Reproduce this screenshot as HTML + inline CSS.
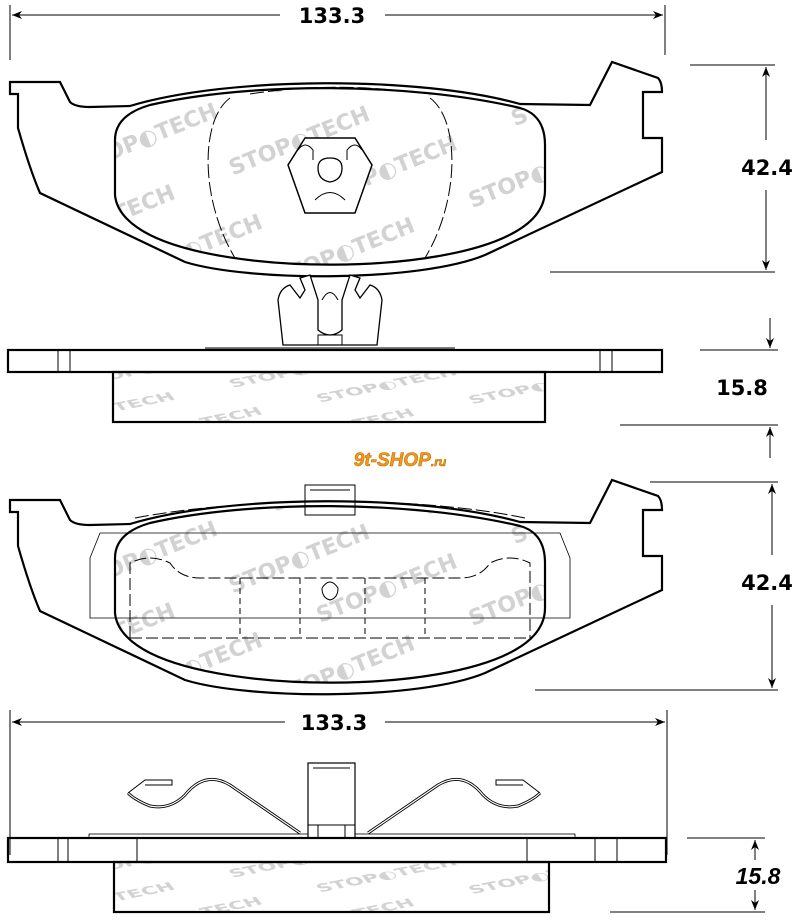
<!DOCTYPE html>
<html><head><meta charset="utf-8"><style>
html,body{margin:0;padding:0;background:#fff;width:800px;height:920px;overflow:hidden;}
svg{display:block;}
.d{font-family:"DejaVu Sans",sans-serif;font-weight:bold;font-size:21px;fill:#000;}
.wm{font-family:"DejaVu Sans",sans-serif;font-weight:bold;font-size:22px;fill:#d2d2d2;}
</style></head><body>
<svg width="800" height="920" viewBox="0 0 800 920" xmlns="http://www.w3.org/2000/svg">
<defs>
<marker id="a" viewBox="0 0 10 10" refX="10" refY="5" markerWidth="10" markerHeight="10" orient="auto-start-reverse" markerUnits="userSpaceOnUse"><path d="M0,1 L10,5 L0,9 L3,5 Z" fill="#000"/></marker>
<path id="fr" d="M150,105 C250,82 410,82 520,108 Q545,115 545,145 L545,190 Q545,215 515,232 C440,275 230,275 150,235 Q117,218 115,195 L115,140 Q115,115 150,105 Z"/>
<clipPath id="f1"><use href="#fr"/></clipPath>
<clipPath id="f2"><use href="#fr" transform="translate(0,418)"/></clipPath>
<clipPath id="s1"><rect x="113" y="372" width="432" height="50"/></clipPath>
<clipPath id="s2"><rect x="114" y="862" width="435" height="50"/></clipPath>
<g id="wmg">
 <g transform="rotate(-22)">
  <text class="wm" x="-60" y="130">STOP◐TECH</text><text class="wm" x="150" y="130">STOP◐TECH</text><text class="wm" x="360" y="130">STOP◐TECH</text>
  <text class="wm" x="10" y="190">STOP◐TECH</text><text class="wm" x="220" y="190">STOP◐TECH</text><text class="wm" x="430" y="190">STOP◐TECH</text>
  <text class="wm" x="-60" y="250">STOP◐TECH</text><text class="wm" x="150" y="250">STOP◐TECH</text><text class="wm" x="360" y="250">STOP◐TECH</text>
  <text class="wm" x="10" y="310">STOP◐TECH</text><text class="wm" x="220" y="310">STOP◐TECH</text><text class="wm" x="430" y="310">STOP◐TECH</text>
  <text class="wm" x="-60" y="370">STOP◐TECH</text><text class="wm" x="150" y="370">STOP◐TECH</text><text class="wm" x="360" y="370">STOP◐TECH</text>
 </g>
</g>
<path id="bp" d="M10,82 L60,82 L70,102 Q75,107 90,107 L130,106 C230,76 420,76 520,104 L590,105 L612,62 L658,78 Q662,82 662,92 L643,92 L643,138 L662,138 L662,172 L485,255 C420,282 250,282 185,262 L40,193 Q30,170 18,128 L18,94 L10,94 Z"/>
</defs>

<line x1="10" y1="5" x2="10" y2="60" stroke="#000"/>
<line x1="665" y1="5" x2="665" y2="55" stroke="#000"/>
<line x1="12" y1="15" x2="280" y2="15" stroke="#000" marker-start="url(#a)"/>
<line x1="385" y1="15" x2="663" y2="15" stroke="#000" marker-end="url(#a)"/>
<text class="d" x="332" y="23" text-anchor="middle">133.3</text>

<g clip-path="url(#f1)"><use href="#wmg"/></g>
<use href="#bp" fill="none" stroke="#000" stroke-width="2.2"/>
<use href="#fr" fill="none" stroke="#000" stroke-width="2.2"/>
<path d="M230,98 C200,120 200,200 235,258" fill="none" stroke="#000" stroke-dasharray="14,4"/>
<path d="M430,98 C460,120 460,200 425,258" fill="none" stroke="#000" stroke-dasharray="14,4"/>
<path d="M250,94 C310,85 360,85 430,94" fill="none" stroke="#000" stroke-dasharray="14,4"/>
<path d="M305,138 L355,138 L372,165 L355,213 L305,213 L288,165 Z" fill="#fff" stroke="#000" stroke-width="1.5"/>
<path d="M318,168 Q318,158 330,158 Q342,158 342,168 Q342,180 330,182 Q318,180 318,168" fill="none" stroke="#000" stroke-width="1.3"/>
<path d="M298,150 Q305,140 313,150 L313,160" fill="none" stroke="#000"/><path d="M362,150 Q355,140 347,150 L347,160" fill="none" stroke="#000"/>
<path d="M315,200 Q330,185 345,200" fill="none" stroke="#000"/>

<line x1="690" y1="65" x2="775" y2="65" stroke="#000"/>
<line x1="550" y1="272" x2="775" y2="272" stroke="#000"/>
<line x1="766" y1="67" x2="766" y2="140" stroke="#000" marker-start="url(#a)"/>
<line x1="766" y1="190" x2="766" y2="270" stroke="#000" marker-end="url(#a)"/>
<text class="d" x="767" y="175" text-anchor="middle">42.4</text>

<path d="M205,348 L455,348" stroke="#000"/>
<path d="M283,345 L278,300 Q280,288 290,285 L300,298 L305,290 L300,278 L310,275 L318,300 L318,330 Q330,340 342,330 L342,300 L350,275 L360,278 L355,290 L360,298 L370,285 Q380,288 382,300 L377,345 Z" fill="#fff" stroke="#000" stroke-width="1.3"/>
<path d="M318,345 L318,335 L342,335 L342,345" fill="none" stroke="#000"/>
<path d="M322,300 Q330,285 338,300" fill="none" stroke="#000"/>
<g clip-path="url(#s1)"><g transform="translate(0,300) scale(1,0.5)"><use href="#wmg"/></g></g>
<rect x="8" y="350" width="654" height="22" fill="none" stroke="#000" stroke-width="2.2"/>
<line x1="58" y1="350" x2="58" y2="372" stroke="#000"/><line x1="70" y1="350" x2="70" y2="372" stroke="#000"/>
<line x1="600" y1="350" x2="600" y2="372" stroke="#000"/><line x1="612" y1="350" x2="612" y2="372" stroke="#000"/>
<rect x="113" y="372" width="432" height="50" fill="none" stroke="#000" stroke-width="2.2"/>

<line x1="700" y1="350" x2="778" y2="350" stroke="#000"/>
<line x1="620" y1="425" x2="778" y2="425" stroke="#000"/>
<line x1="770" y1="318" x2="770" y2="348" stroke="#000" marker-end="url(#a)"/>
<line x1="770" y1="458" x2="770" y2="427" stroke="#000" marker-end="url(#a)"/>
<text class="d" x="742" y="395" text-anchor="middle">15.8</text>

<text x="400" y="466" text-anchor="middle" font-family="Liberation Sans,sans-serif" font-weight="bold" font-style="italic" font-size="19" fill="#f39a1a" stroke="#c26a00" stroke-width="0.6">9t-SHOP<tspan font-size="12">.ru</tspan></text>

<rect x="305" y="485" width="50" height="30" fill="#fff" stroke="#000"/>
<line x1="310" y1="490" x2="350" y2="490" stroke="#000"/>
<g clip-path="url(#f2)"><g transform="translate(0,418)"><use href="#wmg"/></g></g>
<g transform="translate(0,418)">
<use href="#bp" fill="none" stroke="#000" stroke-width="2.2"/>
<use href="#fr" fill="none" stroke="#000" stroke-width="2.2"/>
<path d="M135,100 C250,78 420,78 525,100" fill="none" stroke="#000" stroke-dasharray="14,4"/>
<path d="M90,140 L100,115 L560,115 L570,140 L570,200 L90,200 Z" fill="none" stroke="#000" stroke-width="0.8"/>
<path d="M130,220 L130,145 Q150,135 170,145 Q180,160 200,160 L460,160 Q480,160 490,145 Q510,135 530,145 L530,220" fill="none" stroke="#000" stroke-dasharray="12,4"/>
<line x1="130" y1="220" x2="530" y2="220" stroke="#000" stroke-dasharray="12,4"/>
<line x1="240" y1="160" x2="240" y2="220" stroke="#000" stroke-dasharray="6,4"/>
<line x1="300" y1="160" x2="300" y2="220" stroke="#000" stroke-dasharray="6,4"/>
<line x1="365" y1="160" x2="365" y2="220" stroke="#000" stroke-dasharray="6,4"/>
<line x1="425" y1="160" x2="425" y2="220" stroke="#000" stroke-dasharray="6,4"/>
<path d="M322,170 Q330,158 338,170 Q338,180 330,182 Q322,180 322,170" fill="none" stroke="#000"/>
</g>

<line x1="650" y1="482" x2="778" y2="482" stroke="#000"/>
<line x1="535" y1="690" x2="778" y2="690" stroke="#000"/>
<line x1="772" y1="484" x2="772" y2="555" stroke="#000" marker-start="url(#a)"/>
<line x1="772" y1="605" x2="772" y2="688" stroke="#000" marker-end="url(#a)"/>
<text class="d" x="767" y="590" text-anchor="middle">42.4</text>

<line x1="10" y1="710" x2="10" y2="855" stroke="#000"/>
<line x1="667" y1="710" x2="667" y2="855" stroke="#000"/>
<line x1="12" y1="722" x2="285" y2="722" stroke="#000" marker-start="url(#a)"/>
<line x1="385" y1="722" x2="665" y2="722" stroke="#000" marker-end="url(#a)"/>
<text class="d" x="334" y="730" text-anchor="middle">133.3</text>

<rect x="89" y="834" width="486" height="4" fill="none" stroke="#000" stroke-width="0.8"/>
<path d="M128,793 Q135,800 150,806 Q170,810 185,795 Q205,770 230,785 L300,833" fill="none" stroke="#000" stroke-width="3"/>
<path d="M128,793 Q135,800 150,806 Q170,810 185,795 Q205,770 230,785 L300,833" fill="none" stroke="#fff" stroke-width="1.2"/>
<path d="M540,793 Q533,800 518,806 Q498,810 483,795 Q463,770 438,785 L368,833" fill="none" stroke="#000" stroke-width="3"/>
<path d="M540,793 Q533,800 518,806 Q498,810 483,795 Q463,770 438,785 L368,833" fill="none" stroke="#fff" stroke-width="1.2"/>
<path d="M128,793 L145,780 L172,780 L172,785 L145,785" fill="none" stroke="#000" stroke-width="1"/>
<path d="M540,793 L523,780 L496,780 L496,785 L523,785" fill="none" stroke="#000" stroke-width="1"/>
<rect x="308" y="763" width="47" height="75" fill="#fff" stroke="#000" stroke-width="1.2"/>
<line x1="313" y1="768" x2="350" y2="768" stroke="#000"/>
<line x1="318" y1="825" x2="318" y2="838" stroke="#000"/><line x1="345" y1="825" x2="345" y2="838" stroke="#000"/>
<line x1="308" y1="825" x2="355" y2="825" stroke="#000"/>
<g clip-path="url(#s2)"><g transform="translate(0,790) scale(1,0.5)"><use href="#wmg"/></g></g>
<rect x="8" y="838" width="658" height="24" fill="none" stroke="#000" stroke-width="2.2"/>
<line x1="58" y1="838" x2="58" y2="862" stroke="#000"/><line x1="68" y1="838" x2="68" y2="862" stroke="#000"/><line x1="137" y1="838" x2="137" y2="862" stroke="#000"/>
<line x1="527" y1="838" x2="527" y2="862" stroke="#000"/><line x1="595" y1="838" x2="595" y2="862" stroke="#000"/><line x1="617" y1="838" x2="617" y2="862" stroke="#000"/>
<rect x="114" y="862" width="435" height="50" fill="none" stroke="#000" stroke-width="2.2"/>

<line x1="687" y1="838" x2="765" y2="838" stroke="#000"/>
<line x1="610" y1="912" x2="765" y2="912" stroke="#000"/>
<line x1="755" y1="860" x2="755" y2="840" stroke="#000" marker-end="url(#a)"/>
<line x1="755" y1="890" x2="755" y2="910" stroke="#000" marker-end="url(#a)"/>
<text x="758" y="884" text-anchor="middle" font-family="Liberation Sans,sans-serif" font-weight="bold" font-style="italic" font-size="23">15.8</text>
</svg>
</body></html>
